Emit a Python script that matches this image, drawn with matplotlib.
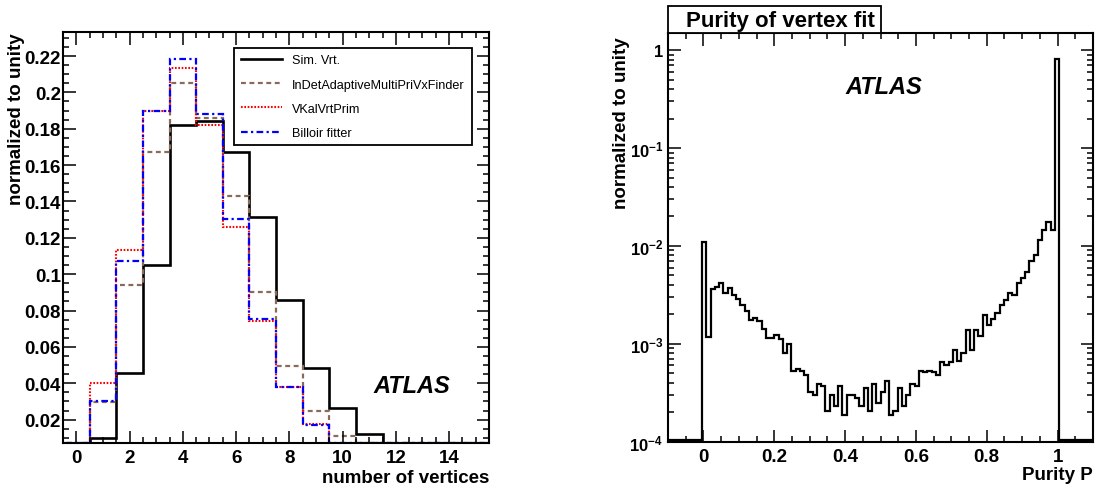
import numpy as np
import matplotlib
matplotlib.use("Agg")
import matplotlib.pyplot as plt
from matplotlib.ticker import MultipleLocator, LogLocator, FuncFormatter, NullFormatter
from matplotlib.patches import Rectangle

plt.rcParams['font.family'] = ['Liberation Sans', 'DejaVu Sans']
plt.rcParams['mathtext.fontset'] = 'custom'
plt.rcParams['mathtext.rm'] = 'Liberation Sans:bold'
plt.rcParams['mathtext.bf'] = 'Liberation Sans:bold'
plt.rcParams['axes.linewidth'] = 1.5

# ---- left: number of vertices (bins centred on 0..15)
n_vertices = np.arange(16)
sim_vrt = [0, 0.0101, 0.0455, 0.1053, 0.182, 0.1844, 0.1672, 0.1316, 0.086, 0.0486, 0.0262, 0.0121, 0.001, 0, 0, 0]
indet_adaptive = [0, 0.0295, 0.0938, 0.167, 0.205, 0.1859, 0.1431, 0.0903, 0.0494, 0.0248, 0.0112, 0, 0, 0, 0, 0]
vkal_vrt_prim = [0, 0.040, 0.1134, 0.1897, 0.2136, 0.182, 0.126, 0.0743, 0.038, 0.0174, 0.004, 0.0016, 0, 0, 0, 0]
billoir = [0, 0.0303, 0.107, 0.1897, 0.2184, 0.1883, 0.1303, 0.0754, 0.0382, 0.0171, 0.004, 0.001, 0, 0, 0, 0]

# ---- right: purity of vertex fit (100 bins from -0.1 to 1.1)
purity_edges = np.linspace(-0.1, 1.1, 101)
purity_vals = ([0] * 8 + [0.0109,
    1.17e-3, 3.6e-3, 3.77e-3, 4.15e-3, 3.3e-3, 3.7e-3, 3.15e-3, 2.86e-3, 2.5e-3, 2.15e-3,
    1.75e-3, 1.84e-3, 1.7e-3, 1.43e-3, 1.14e-3, 1.14e-3, 1.22e-3, 1.13e-3, 8.0e-4, 1.0e-3,
    5.3e-4, 5.5e-4, 5.3e-4, 4.8e-4, 3.2e-4, 3.0e-4, 3.9e-4, 3.7e-4, 2.06e-4, 3.0e-4,
    2.3e-4, 3.7e-4, 1.86e-4, 3.0e-4, 3.0e-4, 2.8e-4, 2.3e-4, 3.5e-4, 2.06e-4, 3.9e-4,
    2.5e-4, 3.2e-4, 4.2e-4, 1.86e-4, 2.06e-4, 3.5e-4, 2.3e-4, 3.0e-4, 3.9e-4, 3.7e-4,
    5.3e-4, 5.1e-4, 5.3e-4, 5.1e-4, 4.8e-4, 6.5e-4, 6.0e-4, 6.5e-4, 8.7e-4, 6.7e-4,
    8.0e-4, 1.37e-3, 8.7e-4, 1.37e-3, 1.19e-3, 1.96e-3, 1.55e-3, 1.77e-3, 2.04e-3, 2.48e-3,
    2.8e-3, 3.27e-3, 3.15e-3, 4.15e-3, 4.67e-3, 5.47e-3, 6.93e-3, 8.1e-3, 1.16e-2, 1.47e-2,
    1.75e-2, 1.47e-2,
    0.81] + [0] * 8)

W, H = 1100, 489
fig = plt.figure(figsize=(11, 4.89), dpi=100)


def box(x0, y0, x1, y1):
    return [x0 / W, 1 - y1 / H, (x1 - x0) / W, (y1 - y0) / H]


def root_ticks(ax):
    ax.tick_params(which='both', direction='in', top=True, right=True, width=1.1)
    ax.tick_params(which='major', length=9)
    ax.tick_params(which='minor', length=4.5)
    for lab in ax.get_xticklabels() + ax.get_yticklabels():
        lab.set_fontweight('bold')


# left panel
ax1 = fig.add_axes(box(63, 33, 489, 444))
ymin1 = 0.00717
edges1 = np.append(n_vertices - 0.5, n_vertices[-1] + 0.5)
ax1.stairs(np.maximum(sim_vrt, ymin1), edges1, color='black', lw=1.9, label='Sim. Vrt.')
ax1.stairs(np.maximum(indet_adaptive, ymin1), edges1, color='#8a6a58', lw=1.6,
           linestyle=(0, (2.2, 1.6)), label='InDetAdaptiveMultiPriVxFinder')
ax1.stairs(np.maximum(vkal_vrt_prim, ymin1), edges1, color='#ff0000', lw=1.5,
           linestyle=(0, (0.8, 0.8)), label='VKalVrtPrim')
ax1.stairs(np.maximum(billoir, ymin1), edges1, color='#0000ff', lw=1.6,
           linestyle=(0, (3, 1.5, 1, 1.5)), label='Billoir fitter')
ax1.set_xlim(-0.5, 15.5)
ax1.set_ylim(ymin1, 0.2332)
ax1.xaxis.set_major_locator(MultipleLocator(2))
ax1.xaxis.set_minor_locator(MultipleLocator(0.5))
ax1.yaxis.set_major_locator(MultipleLocator(0.02))
ax1.yaxis.set_minor_locator(MultipleLocator(0.005))
ax1.yaxis.set_major_formatter(FuncFormatter(lambda v, p: ('%g' % round(v, 3))))
ax1.tick_params(axis='both', labelsize=13.5)
ax1.tick_params(axis='y', pad=1.5)
ax1.tick_params(axis='x', pad=4)
root_ticks(ax1)
leg = ax1.legend(loc='upper left', bbox_to_anchor=(0.402, 0.7316, 0.559, 0.2294), mode='expand',
                 fontsize=9.1, handlelength=3.3, handletextpad=0.74, labelspacing=0.97,
                 borderpad=0.5, borderaxespad=0, fancybox=False, framealpha=1, edgecolor='black')
leg.get_frame().set_linewidth(1.3)
ax1.text(412 / W, 1 - 387 / H, 'ATLAS', transform=fig.transFigure, ha='center', va='center',
         fontsize=17, fontweight='bold', fontstyle='italic')
fig.text(17 / W, 1 - 33 / H, 'normalized to unity', rotation=90, ha='center', va='top',
         fontsize=13.5, fontweight='bold')
fig.text(489 / W, 1 - 479 / H, 'number of vertices', ha='right', va='center',
         fontsize=13.5, fontweight='bold')

# right panel
ax2 = fig.add_axes(box(668, 34, 1093, 443))
ymin2 = 1.0e-4
ax2.stairs(np.maximum(purity_vals, ymin2 * 1.04), purity_edges, color='black', lw=1.6)
ax2.set_yscale('log')
ax2.set_xlim(-0.1, 1.1)
ax2.set_ylim(ymin2 * 0.99, 1.5)
ax2.xaxis.set_major_locator(MultipleLocator(0.2))
ax2.xaxis.set_minor_locator(MultipleLocator(0.05))
ax2.xaxis.set_major_formatter(FuncFormatter(lambda v, p: '%g' % round(v, 2)))
ax2.yaxis.set_major_locator(LogLocator(base=10, numticks=10))
ax2.yaxis.set_minor_locator(LogLocator(base=10, subs=np.arange(2, 10), numticks=10))
ax2.yaxis.set_minor_formatter(NullFormatter())


def log_fmt(v, p):
    e = int(round(np.log10(v)))
    if e == 0:
        return '1'
    return r'$\mathbf{10^{%d}}$' % e


ax2.yaxis.set_major_formatter(FuncFormatter(log_fmt))
ax2.tick_params(axis='x', labelsize=13.5, pad=4)
ax2.tick_params(axis='y', labelsize=12, pad=3.5)
root_ticks(ax2)
ax2.text(884 / W, 1 - 87 / H, 'ATLAS', transform=fig.transFigure, ha='center', va='center',
         fontsize=17, fontweight='bold', fontstyle='italic')
fig.text(622 / W, 1 - 37 / H, 'normalized to unity', rotation=90, ha='center', va='top',
         fontsize=13.5, fontweight='bold')
fig.text(1093 / W, 1 - 476 / H, 'Purity P', ha='right', va='center',
         fontsize=13.5, fontweight='bold')

# title box
fig.patches.append(Rectangle((668 / W, 1 - 34 / H), (881 - 668) / W, 27 / H, transform=fig.transFigure,
                             facecolor='white', edgecolor='black', lw=1.3))
fig.text(780 / W, 1 - 21 / H, 'Purity of vertex fit', ha='center', va='center',
         fontsize=16, fontweight='bold')

fig.savefig('out.png', dpi=100)
